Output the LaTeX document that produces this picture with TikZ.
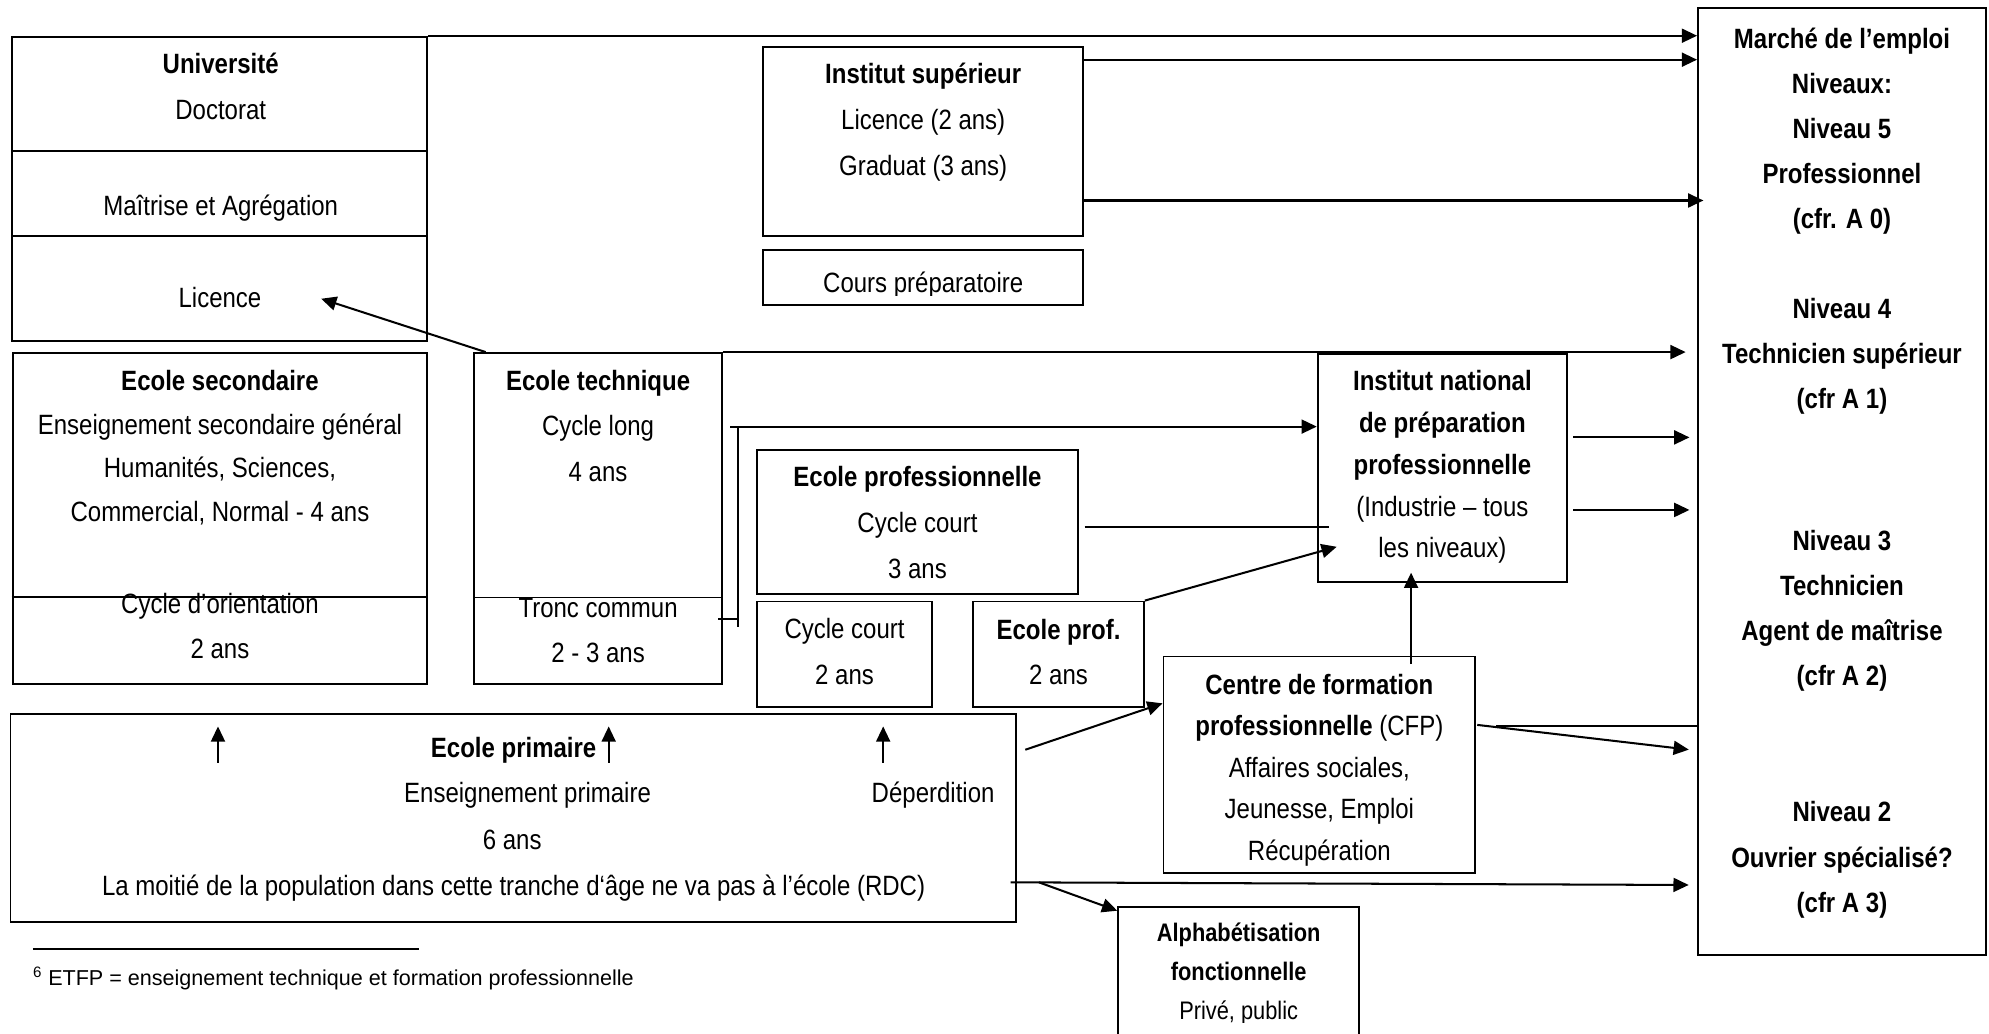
\documentclass[tikz,border=0pt]{standalone}
\usepackage{fontspec}
\setmainfont{Liberation Sans}[FakeStretch=0.86]
\newfontfamily\notefont{Liberation Sans}
\usepackage{tikz}
\usetikzlibrary{positioning,calc,fit,arrows.meta}
\newcommand{\bnode}[3]{\node [cadre, fit={(#2) (#3)}] (#1) {}}
\newcommand{\tnode}[4][]{\node [txt,#1] (#2) at (#3) {#4}}
\newcommand{\corps}[1]{\fontsize{22}{#1}\selectfont}

\begin{document}
\begin{tikzpicture}[x=1pt, y=-1pt,
  cadre/.style={draw, line width=1.5pt, inner sep=0pt},
  txt/.style={inner sep=0pt, align=center, font=\corps{36},
    execute at begin node=\strut, execute at end node=\strut},
  trait/.style={line width=1.6pt},
  fleche/.style={trait, -{Triangle[length=12pt,width=11pt]}}]

\useasboundingbox (0,0) rectangle (1568,814.4);

\bnode{uni}{9.8,28.9}{336.6,268.5};
\bnode{isup}{601.8,36.8}{853.8,185.8};
\bnode{prep}{601.8,197}{853.8,240.5};
\bnode{sec}{9.9,278}{336.8,539};
\bnode{tech}{374,278.3}{569,539};
\bnode{epro}{596.8,354.7}{849.7,468.2};
\bnode{cc}{596.8,474.2}{734.7,557};
\bnode{eprof}{767.1,474.2}{901.8,557};
\bnode{inpp}{1038.8,279.3}{1235.4,458.5};
\bnode{prim}{8.3,562.8}{800.9,726.5};
\bnode{cfp}{917.2,517.5}{1163,688.4};
\bnode{alpha}{881.5,714.7}{1071.5,830};
\bnode{mkt}{1338.6,6.6}{1565.6,752.8};

\foreach \y in {118.8,185.8}
  \draw[cadre] (uni.west |- 0,\y) -- (uni.east |- 0,\y);
\draw[cadre] (sec.west |- 0,470.4) -- (sec.east |- 0,470.4);
\draw[cadre] (tech.west |- 0,471) -- (tech.east |- 0,471);

\tnode[font=\corps{36.8}]{unitxt}{174,73.6}{\textbf{Université}\\Doctorat};
\tnode{mag}{174,163}{Maîtrise et Agrégation};
\tnode{lic}{173.4,235.5}{Licence};
\tnode[font=\corps{36.5}]{isuptxt}{727.8,99.5}{\textbf{Institut supérieur}\\Licence (2 ans)\\Graduat (3 ans)};
\begin{scope}
\clip (prep.north west) rectangle ($(prep.south east)+(0,-8.5)$);
\tnode{preptxt}{727.8,223}{Cours préparatoire};
\end{scope}
\tnode[font=\corps{34.5}]{sectxt}{173.4,356.6}{\textbf{Ecole secondaire}\\Enseignement secondaire général\\Humanités, Sciences,\\Commercial, Normal - 4 ans};
\tnode[font=\corps{35.5}]{orient}{173.4,498.7}{Cycle d’orientation\\2 ans};
\tnode{techtxt}{471.5,341}{\textbf{Ecole technique}\\Cycle long\\4 ans};
\tnode[font=\corps{35.5}]{tronc}{471.5,502.5}{Tronc commun\\2 - 3 ans};
\tnode{eprotxt}{723.3,417.1}{\textbf{Ecole professionnelle}\\Cycle court\\3 ans};
\tnode[font=\corps{36.8}]{cctxt}{665.8,518.9}{Cycle court\\2 ans};
\tnode{eproftxt}{834.5,519.3}{\textbf{Ecole prof.}\\2 ans};
\tnode[font=\corps{33}]{inpptxt}{1137.1,370.8}{\textbf{Institut national}\\\textbf{de préparation}\\\textbf{professionnelle}\\(Industrie – tous\\les niveaux)};
\begin{scope}
\clip (cfp.north west) rectangle ($(cfp.south east)+(0,-7)$);
\tnode[font=\corps{32.8}]{cfptxt}{1040.1,609.7}{\textbf{Centre de formation}\\\textbf{professionnelle} (CFP)\\Affaires sociales,\\Jeunesse, Emploi\\Récupération};
\end{scope}
\begin{scope}
\clip (alpha.north west) rectangle ($(alpha.north east)+(0,92)$);
\tnode[font=\fontsize{20}{30.85}\selectfont]{alphatxt}{976.5,770.5}{\textbf{Alphabétisation}\\\textbf{fonctionnelle}\\Privé, public};
\end{scope}
\tnode[font=\corps{35.5}\bfseries]{mkttxt}{1452.1,375.75}{Marché de l’emploi\\Niveaux:\\Niveau 5\\Professionnel\\(cfr. A 0)\\[35.5pt]Niveau 4\\Technicien supérieur\\(cfr A 1)\\[76.2pt]Niveau 3\\Technicien\\Agent de maîtrise\\(cfr A 2)\\[72.3pt]Niveau 2\\Ouvrier spécialisé?\\(cfr A 3)};

\tnode{primtitre}{404.9,589.9}{\textbf{Ecole primaire}};
\tnode{ensprim}{415.9,625.4}{Enseignement primaire};
\tnode{deperd}{735.6,625.4}{Déperdition};
\tnode{sixans}{403.8,662.2}{6 ans};
\tnode{moitie}{404.9,699}{La moitié de la population dans cette tranche d‘âge ne va pas à l’école (RDC)};

\foreach \dx in {164.3,472.3,688.7}
  \draw[fleche] ($(prim.north west)+(\dx,39.4)$) -- ++(0,-28.8);

\draw[fleche] (uni.north east) -- (uni.north east -| mkt.west);
\draw[fleche] ($(isup.north east)+(0,11)$) coordinate (is1) -- (is1 -| mkt.west);
\draw[fleche] ($(isup.south east)+(0,-28.5)$) coordinate (is2) -- ($(is2 -| mkt.west)+(5,0)$);
\draw[fleche, shorten >=9pt] (tech.north east) -- (tech.north east -| mkt.west);
\draw[fleche] ($(tech.north west)+(9.6,0)$) -- ($(lic.east)+(47,0)$);

\coordinate (brh) at (582,336.3);
\coordinate (brb) at (582,494);
\draw[trait] (brh) -- (brb);
\draw[fleche] ($(brh)+(-6.5,0)$) -- (brh -| inpp.west);
\draw[trait] ($(tech.south east)+(-3.5,-51.5)$) coordinate (tk) -- (tk -| brb);
\draw[trait] ($(epro.east)+(4.6,3.7)$) coordinate (ep) -- ($(ep -| inpp.west)+(9.7,0)$);
\draw[fleche] (eprof.north east) -- ($(inpp.south west)+(15.7,-28.2)$);
\draw[fleche] ($(cfp.north)+(72.3,6.7)$) coordinate (cf) -- ($(cf |- inpp.south)+(0,-7.8)$);

\draw[fleche, shorten >=6pt] ($(inpp.east)+(3.9,-24.1)$) coordinate (in1) -- (in1 -| mkt.west);
\draw[fleche, shorten >=6pt] ($(inpp.east)+(3.9,33.1)$) coordinate (in2) -- (in2 -| mkt.west);
\draw[trait] ($(cfp.east)+(15.7,-30.5)$) coordinate (cf2) -- (cf2 -| mkt.west);
\draw[fleche] ($(cfp.east)+(0.8,-31.5)$) -- ($(mkt.west |- cfp.east)+(-6.5,-12)$);

\draw[fleche] ($(prim.north east)+(6.6,29)$) -- ($(cfp.west)+(0,-48.5)$);
\draw[fleche] ($(prim.east)+(-4.9,50.9)$) -- ($(prim.east -| mkt.west)+(-6.6,53)$);
\draw[fleche] ($(prim.east)+(17.3,50.9)$) -- ($(alpha.north west)+(0,4)$);

\draw[line width=1.2pt] (26,748.3) -- (330.2,748.3);
\node[anchor=west, inner sep=0pt, font=\notefont\fontsize{17}{20}\selectfont] (note) at (26,771.2) {\textsuperscript{6} ETFP = enseignement technique et formation professionnelle};

\end{tikzpicture}
\end{document}
